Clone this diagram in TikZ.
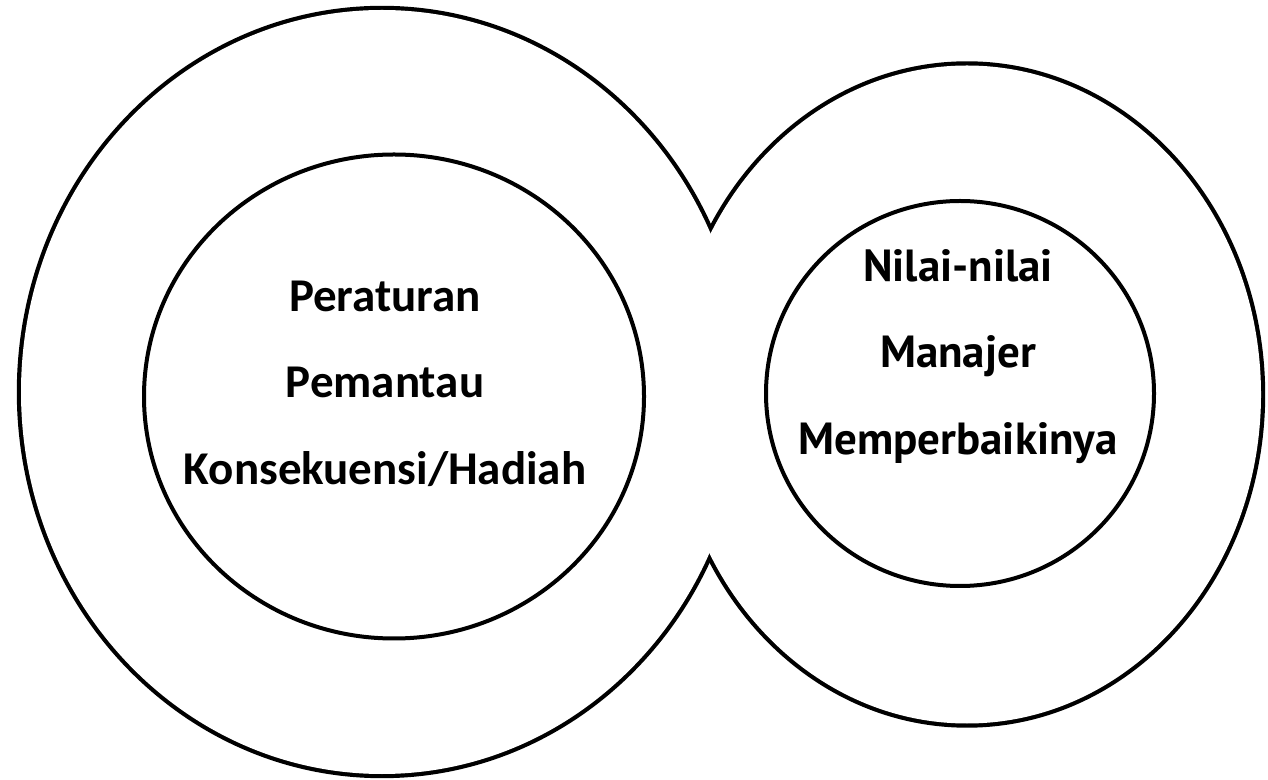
\documentclass[tikz,border=0pt]{standalone}
\usepackage{fontspec}
\setmainfont{Carlito}
\newfontfamily\rfont{PT Sans}
\usetikzlibrary{shapes.geometric}
\begin{document}
\begin{tikzpicture}[x=1pt,y=1pt,
  outerline/.style={draw=black, line width=8.4pt},
  outerfill/.style={fill=white},
  ring/.style={draw=black, line width=4pt, ellipse, inner sep=0pt, outer sep=0pt},
  ltext/.style={anchor=base, inner sep=0pt, font=\fontsize{47}{47}\selectfont\bfseries},
  rtext/.style={anchor=base, inner sep=0pt, font=\rfont\fontsize{45}{45}\selectfont\bfseries}]
\useasboundingbox[fill=white] (0,0) rectangle (1268,779);
% outer union outline (left and right lobes)
\draw[outerline] (382,387) ellipse [x radius=361, y radius=382];
\draw[outerline] (967,384.5) ellipse [x radius=294, y radius=329];
\fill[outerfill] (382,387) ellipse [x radius=361, y radius=382];
\fill[outerfill] (967,384.5) ellipse [x radius=294, y radius=329];
% inner circles
\node[ring, minimum width=500pt, minimum height=484pt] (left) at (394,382.5) {};
\node[ring, minimum width=388pt, minimum height=385pt] (right) at (960,385.5) {};
% texts
\node[ltext] (l1) at (385,467) {Peraturan};
\node[ltext] (l2) at (385,381) {Pemantau};
\node[ltext] (l3) at (385,294) {Konsekuensi/Hadiah};
\node[rtext] (r1) at (958,497) {Nilai-nilai};
\node[rtext] (r2) at (958,411) {Manajer};
\node[rtext] (r3) at (958,324) {Memperbaikinya};
\end{tikzpicture}
\end{document}
